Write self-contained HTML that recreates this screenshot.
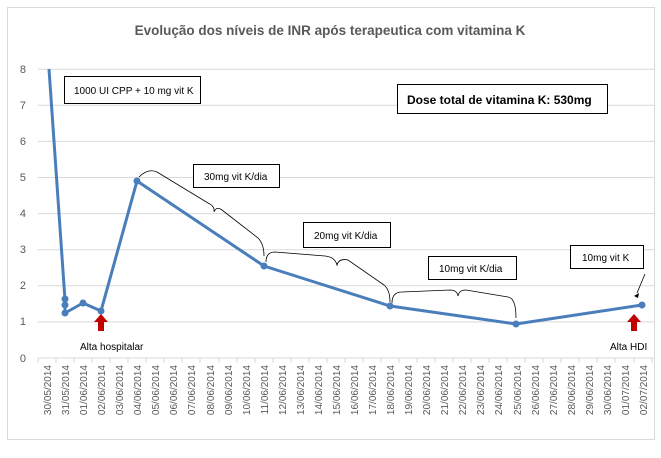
<!DOCTYPE html>
<html><head><meta charset="utf-8"><style>
body{margin:0;background:#fff}
svg{display:block;font-family:"Liberation Sans",sans-serif}
</style></head><body>
<svg width="661" height="458" viewBox="0 0 661 458">
<rect x="7.5" y="7.5" width="647" height="432" fill="#fff" stroke="#d9d9d9"/>
<text x="330" y="35" text-anchor="middle" font-size="13.5" font-weight="bold" fill="#595959">Evolução dos níveis de INR após terapeutica com vitamina K</text>
<g stroke="#d9d9d9" stroke-width="1">
<line x1="38" x2="655" y1="69.2" y2="69.2"/><line x1="38" x2="655" y1="105.3" y2="105.3"/>
<line x1="38" x2="655" y1="141.4" y2="141.4"/><line x1="38" x2="655" y1="177.5" y2="177.5"/>
<line x1="38" x2="655" y1="213.6" y2="213.6"/><line x1="38" x2="655" y1="249.7" y2="249.7"/>
<line x1="38" x2="655" y1="285.8" y2="285.8"/><line x1="38" x2="655" y1="321.9" y2="321.9"/>
<line x1="38" x2="655" y1="358" y2="358"/>
</g>
<g font-size="11" fill="#595959" text-anchor="end">
<text x="26" y="73">8</text><text x="26" y="109">7</text><text x="26" y="145">6</text>
<text x="26" y="181">5</text><text x="26" y="217">4</text><text x="26" y="253">3</text>
<text x="26" y="289">2</text><text x="26" y="325">1</text><text x="26" y="362">0</text>
</g>
<path stroke="#d9d9d9" fill="none" d="M38,358v5M56,358v5M74,358v5M92,358v5M110,358v5M128,358v5M146,358v5M164,358v5M182,358v5M200,358v5M219,358v5M237,358v5M255,358v5M273,358v5M291,358v5M309,358v5M327,358v5M345,358v5M363,358v5M381,358v5M399,358v5M417,358v5M435,358v5M453,358v5M471,358v5M489,358v5M507,358v5M525,358v5M543,358v5M561,358v5M579,358v5M597,358v5M615,358v5M634,358v5M652,358v5"/>
<g font-size="10" fill="#595959" text-anchor="end">
<text transform="translate(51,365) rotate(-90)">30/05/2014</text>
<text transform="translate(69,365) rotate(-90)">31/05/2014</text>
<text transform="translate(87,365) rotate(-90)">01/06/2014</text>
<text transform="translate(105,365) rotate(-90)">02/06/2014</text>
<text transform="translate(123,365) rotate(-90)">03/06/2014</text>
<text transform="translate(141,365) rotate(-90)">04/06/2014</text>
<text transform="translate(159,365) rotate(-90)">05/06/2014</text>
<text transform="translate(177,365) rotate(-90)">06/06/2014</text>
<text transform="translate(195,365) rotate(-90)">07/06/2014</text>
<text transform="translate(214,365) rotate(-90)">08/06/2014</text>
<text transform="translate(232,365) rotate(-90)">09/06/2014</text>
<text transform="translate(250,365) rotate(-90)">10/06/2014</text>
<text transform="translate(268,365) rotate(-90)">11/06/2014</text>
<text transform="translate(286,365) rotate(-90)">12/06/2014</text>
<text transform="translate(304,365) rotate(-90)">13/06/2014</text>
<text transform="translate(322,365) rotate(-90)">14/06/2014</text>
<text transform="translate(340,365) rotate(-90)">15/06/2014</text>
<text transform="translate(358,365) rotate(-90)">16/06/2014</text>
<text transform="translate(376,365) rotate(-90)">17/06/2014</text>
<text transform="translate(394,365) rotate(-90)">18/06/2014</text>
<text transform="translate(412,365) rotate(-90)">19/06/2014</text>
<text transform="translate(430,365) rotate(-90)">20/06/2014</text>
<text transform="translate(448,365) rotate(-90)">21/06/2014</text>
<text transform="translate(466,365) rotate(-90)">22/06/2014</text>
<text transform="translate(484,365) rotate(-90)">23/06/2014</text>
<text transform="translate(502,365) rotate(-90)">24/06/2014</text>
<text transform="translate(521,365) rotate(-90)">25/06/2014</text>
<text transform="translate(539,365) rotate(-90)">26/06/2014</text>
<text transform="translate(557,365) rotate(-90)">27/06/2014</text>
<text transform="translate(575,365) rotate(-90)">28/06/2014</text>
<text transform="translate(593,365) rotate(-90)">29/06/2014</text>
<text transform="translate(611,365) rotate(-90)">30/06/2014</text>
<text transform="translate(629,365) rotate(-90)">01/07/2014</text>
<text transform="translate(647,365) rotate(-90)">02/07/2014</text>
</g>
<polyline fill="none" stroke="#4a7ebb" stroke-width="3" stroke-linejoin="round" points="49,69 65,300 65,305 65,313 83,303 101,311 137,181 264,266 390,306 516,324 642,305"/>
<g fill="#4a7ebb">
<circle cx="65" cy="299" r="3.5"/><circle cx="65" cy="305" r="3.5"/><circle cx="65" cy="313" r="3.5"/>
<circle cx="83" cy="303" r="3.5"/><circle cx="101" cy="311" r="3.5"/><circle cx="137" cy="181" r="3.5"/>
<circle cx="264" cy="266" r="3.5"/><circle cx="390" cy="306" r="3.5"/><circle cx="516" cy="324" r="3.5"/>
<circle cx="642" cy="305" r="3.5"/>
</g>
<g fill="none" stroke="#000" stroke-width="0.8">
<path d="M139,177 Q148,168 157,172 L208,203 Q215,206 214,212 Q216,206 222,210 L258,238 Q264,244 264,256"/>
<path d="M266,262 Q266,252 275,252 L325,256 Q335,257 337,265 Q339,258 348,260 L384,285 Q390,290 390,302"/>
<path d="M392,303 Q392,292 402,292 L450,290 Q457,290 458,296 Q459,290 466,290 L508,297 Q516,298 516,318"/>
<path d="M645,274 L637,293"/>
</g>
<path d="M634,296 l5,-3 l-1,5 z" fill="#000"/>
<g fill="#c00000">
<path d="M101,314 l-7,8 h4 v9 h6 v-9 h4 z"/>
<path d="M634,314 l-7,8 h4 v9 h6 v-9 h4 z"/>
</g>
<g font-size="10" fill="#000">
<text x="80" y="350">Alta hospitalar</text>
<text x="610" y="350">Alta HDI</text>
</g>
<g stroke="#000" stroke-width="1" fill="#fff">
<rect x="64.5" y="76.5" width="136" height="27"/>
<rect x="397.5" y="84.5" width="210" height="29"/>
<rect x="193.5" y="164.5" width="86" height="23"/>
<rect x="303.5" y="222.5" width="87" height="25"/>
<rect x="428.5" y="256.5" width="88" height="23"/>
<rect x="570.5" y="245.5" width="73" height="23"/>
</g>
<g font-size="10" fill="#000">
<text x="74" y="94">1000 UI CPP + 10 mg vit K</text>
<text x="407" y="104" font-size="12" font-weight="bold">Dose total de vitamina K: 530mg</text>
<text x="204" y="180">30mg vit K/dia</text>
<text x="314" y="239">20mg vit K/dia</text>
<text x="439" y="272">10mg vit K/dia</text>
<text x="582" y="261">10mg vit K</text>
</g>
</svg>
</body></html>
